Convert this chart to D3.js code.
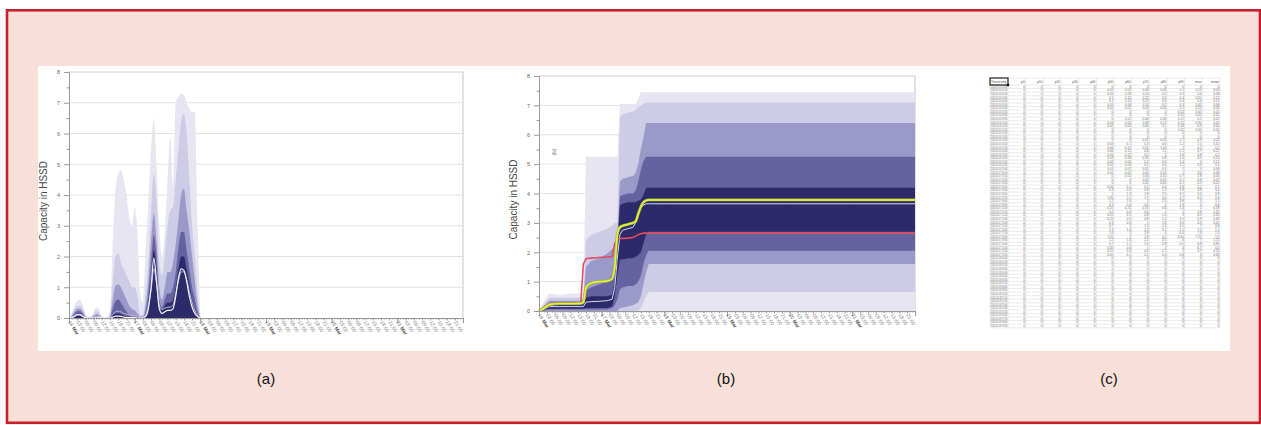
<!DOCTYPE html>
<html>
<head>
<meta charset="utf-8">
<script src="https://cdn.jsdelivr.net/npm/d3@7/dist/d3.min.js"></script>
<style>
  body { margin: 0; background: #fff; }
  svg { display: block; font-family: "Liberation Sans", Arial, sans-serif; }
</style>
</head>
<body>
<div id="figure"></div>
<script>
// ---- panel (a): hourly capacity fan, 16 Mar 00:00 .. 18 Mar 00:00
var aHours = [0,1,2,3,4,5,6,7,8,9,10,11,12,13,14,15,16,17,18,19,20,21,22,23,24,
              25,26,27,28,29,30,31,32,33,34,35,36,37,38,39,40,41,42,43,44,45,46,47,48];
var aBand1 = [0,0.15,0.4,0.55,0.6,0.45,0.15,0.05,0.05,0.2, 0.35,0.3,0.05,0,0,0.3,2.5,4.2,4.7,4.8,
              4.5,4.0,3.3,3.0,3.6,2.8,0.8,0.5,2.2,3.8, 5.5,6.5,5.0,3.0,2.0,2.8,4.5,5.9,4.3,7.0,
              7.2,7.3,7.25,7.0,6.8,6.7,6.7,3.0,0];
var aBand2 = [0,0.1,0.3,0.4,0.4,0.3,0.1,0.02,0.02,0.12, 0.22,0.18,0.02,0,0,0.1,1.2,2.0,2.1,1.8,
              1.6,1.4,1.2,1.0,1.0,0.7,0.1,0.1,0.8,1.8, 3.5,4.7,3.8,1.8,1.4,2.0,3.0,3.5,3.6,4.5,
              5.5,6.4,6.65,6.0,4.5,3.0,2.0,0.8,0];
var aBand3 = [0,0.06,0.2,0.3,0.3,0.2,0.05,0,0,0.06, 0.12,0.1,0,0,0,0.05,0.6,1.05,1.1,1.0,
              0.8,0.6,0.4,0.3,0.25,0.15,0.05,0.05,0.4,1.2, 2.5,3.4,2.5,1.0,0.6,1.0,1.5,1.5,1.8,2.4,
              3.2,4.0,4.2,3.5,2.8,2.0,1.2,0.4,0];
var aBand4 = [0,0.04,0.14,0.22,0.22,0.14,0.03,0,0,0.04, 0.08,0.06,0,0,0,0.02,0.3,0.55,0.6,0.5,
              0.35,0.2,0.1,0.05,0.05,0.03,0.02,0.02,0.2,0.8, 1.8,2.7,2.0,0.6,0.35,0.6,0.8,0.8,1.0,1.5,
              2.3,2.8,2.8,2.2,1.6,1.0,0.6,0.2,0];
var aBand5 = [0,0.02,0.08,0.15,0.15,0.08,0.02,0,0,0.02, 0.05,0.04,0,0,0,0,0.1,0.15,0.15,0.12,
              0.08,0.05,0.03,0.02,0.02,0.01,0,0,0.1,0.5, 1.3,2.2,1.6,0.4,0.25,0.4,0.5,0.5,0.6,1.0,
              1.6,2.0,2.0,1.6,1.1,0.6,0.3,0.1,0];
var aMedian = [0,0.01,0.05,0.1,0.1,0.05,0.01,0,0,0, 0.03,0.02,0,0,0,0,0.03,0.06,0.06,0.05,
               0.03,0.02,0.01,0.01,0.01,0,0,0,0.05,0.3, 1.0,1.95,1.2,0.3,0.15,0.2,0.25,0.25,0.3,0.7,
               1.3,1.6,1.55,1.2,0.7,0.35,0.15,0.05,0];
var aMean = [0,0.03,0.08,0.12,0.12,0.08,0.02,0.01,0.01,0.02, 0.05,0.04,0.01,0,0,0.02,0.12,0.2,0.22,0.2,
             0.15,0.12,0.1,0.08,0.08,0.05,0.02,0.02,0.1,0.4, 0.9,1.6,1.1,0.4,0.28,0.32,0.35,0.36,0.42,0.8,
             1.2,1.5,1.5,1.25,0.85,0.5,0.25,0.08,0];

// ---- panel (b): cumulative capacity fan, 16 Mar .. 22 Mar
var bHours = [0,2,4,8,12,16,17,18,20,23,26,28,29,30,31,32,34,36,37,38,39,40,41,42,43,48,72,96,120,144];
var bUp1 = [0,0.35,0.6,0.55,0.6,0.6,0.6,5.25,5.25,5.25,5.25,5.25,5.25,5.25,7.05,7.05,7.05,7.05,7.05,7.2,7.45,7.45,7.45,7.45,7.45,7.45,7.45,7.45,7.45,7.45];
var bUp2 = [0,0.25,0.45,0.45,0.45,0.45,0.45,2.4,2.6,2.7,2.8,2.9,3.0,3.0,6.6,6.7,6.75,6.8,6.85,6.95,7.0,7.05,7.1,7.1,7.1,7.1,7.1,7.1,7.1,7.1];
var bUp3 = [0,0.18,0.35,0.35,0.35,0.35,0.4,1.5,1.7,1.8,1.95,2.1,2.2,2.4,4.4,4.5,4.55,4.6,4.7,5.0,5.5,5.9,6.4,6.4,6.4,6.4,6.4,6.4,6.4,6.4];
var bUp4 = [0,0.14,0.28,0.28,0.28,0.28,0.3,0.7,0.8,0.9,1.0,1.2,1.4,2.2,3.9,3.95,4.0,4.0,4.1,4.4,4.8,5.1,5.25,5.25,5.25,5.25,5.25,5.25,5.25,5.25];
var bUp5 = [0,0.1,0.2,0.2,0.2,0.2,0.22,0.45,0.5,0.5,0.5,0.55,1.0,2.2,3.6,3.65,3.7,3.7,3.7,3.75,3.8,3.95,4.2,4.2,4.2,4.2,4.2,4.2,4.2,4.2];
var bLo1 = [0,0,0,0,0,0,0,0,0,0,0,0,0,0,0,0,0,0,0,0,0,0,0,0,0,0,0,0,0,0];
var bLo2 = [0,0,0,0,0,0,0,0,0,0,0,0,0,0,0,0,0,0,0,0,0.1,0.3,0.5,0.65,0.65,0.65,0.65,0.65,0.65,0.65];
var bLo3 = [0,0,0,0,0,0,0,0,0,0,0,0,0,0,0.1,0.12,0.15,0.2,0.25,0.3,0.5,0.9,1.3,1.6,1.6,1.6,1.6,1.6,1.6,1.6];
var bLo4 = [0,0.02,0.05,0.05,0.05,0.05,0.05,0.05,0.05,0.05,0.05,0.1,0.2,0.4,0.75,0.8,0.85,0.85,0.9,1.0,1.2,1.6,1.9,2.05,2.05,2.05,2.05,2.05,2.05,2.05];
var bLo5 = [0,0.05,0.08,0.08,0.08,0.08,0.08,0.1,0.1,0.1,0.1,0.15,0.5,1.2,1.75,1.75,1.8,1.8,1.85,1.9,2.0,2.3,2.6,2.7,2.7,2.7,2.7,2.7,2.7,2.7];
var bMedian = [0,0.08,0.15,0.15,0.15,0.15,0.15,0.3,0.32,0.33,0.35,0.4,0.8,1.8,2.6,2.75,2.8,2.85,3.0,3.3,3.5,3.6,3.65,3.65,3.65,3.65,3.65,3.65,3.65,3.65];
var bYellow = [0,0.1,0.22,0.25,0.25,0.26,0.3,0.8,0.95,1.0,1.02,1.1,1.5,2.6,2.85,2.9,2.95,3.0,3.05,3.3,3.55,3.7,3.76,3.78,3.78,3.78,3.78,3.78,3.78,3.78];
var bRed = [0,0.12,0.25,0.28,0.28,0.28,1.6,1.78,1.8,1.82,1.84,1.85,2.3,2.45,2.47,2.47,2.48,2.5,2.55,2.6,2.63,2.65,2.65,2.65,2.65,2.65,2.65,2.65,2.65,2.65];

// ---- shared
var yTicks = [0,1,2,3,4,5,6,7,8];
var yMinor = [0.5,1.5,2.5,3.5,4.5,5.5,6.5,7.5];
var bandColors = ["#e7e5f2", "#cdcbe5", "#9b98ca", "#66629f", "#2d2a6a"];
var startDay = new Date(2016, 2, 16), endDay = new Date(2016, 2, 22);

// ---- panel (c): spreadsheet of the panel (a) values
var tableHead = ["Timestamp","p0","p10","p20","p30","p40","p50","p60","p70","p80","p90","max","mean"];
var tableSeries = [null,null,null,null,null,aMedian,aBand5,aBand4,aBand3,aBand2,aBand1,aMean];
var tableRows = 68;

var W = 1261, H = 425;
var svg = d3.select("#figure").append("svg").attr("width", W).attr("height", H);

svg.append("rect").attr("x", 7).attr("y", 10.3).attr("width", 1253).attr("height", 412.5)
  .attr("fill", "#f8e0d8").attr("stroke", "#c61f2b").attr("stroke-width", 2.6);
svg.append("rect").attr("x", 38).attr("y", 66).attr("width", 1192).attr("height", 285).attr("fill", "#fff");

function hourDate(h) { return new Date(startDay.getTime() + h * 3600e3); }

function drawPanel(box, hours, bands, lines, curve, labelX, extra) {
  var x = d3.scaleTime().domain([startDay, endDay]).range([box.left, box.right]);
  var y = d3.scaleLinear().domain([0, 8]).range([box.bottom, box.top]);
  var g = svg.append("g");

  // gridlines + frame
  g.selectAll(".grid").data(yTicks.slice(1, 8)).enter().append("line")
    .attr("x1", box.left).attr("x2", box.right)
    .attr("y1", function(d) { return y(d); }).attr("y2", function(d) { return y(d); })
    .attr("stroke", "#e2e2e2").attr("stroke-width", 1);
  g.append("path")
    .attr("d", "M" + box.left + "," + y(8) + "H" + box.right + "V" + y(0))
    .attr("fill", "none").attr("stroke", "#cfcfcf").attr("stroke-width", 1.2);

  // fan bands
  bands.forEach(function(b, i) {
    var area = d3.area()
      .x(function(d, j) { return x(hourDate(hours[j])); })
      .y0(function(d, j) { return y(b.lo ? b.lo[j] : 0); })
      .y1(function(d) { return y(d); })
      .curve(curve);
    g.append("path").datum(b.hi).attr("d", area).attr("fill", bandColors[i]);
  });

  lines.forEach(function(l) {
    var line = d3.line()
      .x(function(d, j) { return x(hourDate(hours[j])); })
      .y(function(d) { return y(d); })
      .curve(l.curve || curve);
    g.append("path").datum(l.values).attr("d", line).attr("fill", "none")
      .attr("stroke", l.color).attr("stroke-width", l.width);
  });

  // y axis
  var yAxis = g.append("g").attr("transform", "translate(" + box.left + ",0)")
    .call(d3.axisLeft(y).tickValues(yTicks).tickSize(5).tickFormat(d3.format("d")));
  g.append("g").attr("transform", "translate(" + box.left + ",0)")
    .call(d3.axisLeft(y).tickValues(yMinor).tickSize(2.5).tickFormat(""))
    .select(".domain").remove();
  yAxis.selectAll("text").attr("font-size", 5.5).attr("fill", "#666").attr("dx", -1);

  // x axis
  g.append("g").attr("transform", "translate(0," + box.bottom + ")")
    .call(d3.axisBottom(x).ticks(d3.timeHour.every(1)).tickSize(1.5).tickFormat(""));
  g.append("g").attr("transform", "translate(0," + box.bottom + ")")
    .call(d3.axisBottom(x).ticks(d3.timeHour.every(3)).tickSize(2.5).tickFormat(""))
    .select(".domain").remove();
  g.append("g").attr("transform", "translate(0," + box.bottom + ")")
    .call(d3.axisBottom(x).ticks(d3.timeDay.every(1)).tickSize(5).tickFormat(""))
    .select(".domain").remove();
  g.selectAll(".domain, .tick line").attr("stroke", "#9a9a9a");

  var labTimes = x.ticks(d3.timeHour.every(3)).filter(function(t) { return t < endDay; });
  var lab = g.selectAll(".xl").data(labTimes).enter().append("text")
    .attr("transform", function(t) { return "translate(" + (x(t) - 1) + "," + (box.bottom + 4) + ") rotate(58)"; })
    .attr("font-size", 5).attr("fill", "#8a8a8a");
  lab.each(function(t) {
    var s = d3.select(this);
    if (t.getHours() === 0) {
      s.append("tspan").text(d3.timeFormat("%d")(t) + " ").attr("fill", "#666");
      s.append("tspan").text("Mar").attr("font-weight", "bold").attr("fill", "#555");
    } else {
      s.text(d3.timeFormat("%H:%M")(t));
    }
  });

  // y label
  g.append("text").attr("transform", "translate(" + labelX + "," + ((box.top + box.bottom) / 2 + 6) + ") rotate(-90)")
    .attr("text-anchor", "middle").attr("font-size", 10).attr("fill", "#4a4a4a")
    .text("Capacity in HSSD");
  if (extra) extra(g);
}

// (a)
drawPanel({ left: 69, right: 463, top: 72, bottom: 318 }, aHours,
  [{ hi: aBand1 }, { hi: aBand2 }, { hi: aBand3 }, { hi: aBand4 }, { hi: aBand5 }],
  [{ values: aMean, color: "#b9b6df", width: 1 },
   { values: aMedian, color: "#f3f2fb", width: 1.2 }],
  d3.curveMonotoneX, 47);

// (b)
drawPanel({ left: 539, right: 915, top: 76, bottom: 311 }, bHours,
  [{ lo: bLo1, hi: bUp1 }, { lo: bLo2, hi: bUp2 }, { lo: bLo3, hi: bUp3 }, { lo: bLo4, hi: bUp4 }, { lo: bLo5, hi: bUp5 }],
  [{ values: bMedian, color: "#d9d8ef", width: 1 },
   { values: bRed, color: "#e54d5f", width: 1.6 },
   { values: bYellow, color: "#9cc23e", width: 2.8, curve: d3.curveMonotoneX },
   { values: bYellow, color: "#f3ef3e", width: 1.4, curve: d3.curveMonotoneX }],
  d3.curveLinear, 517,
  function(g) {
    g.append("text").attr("transform", "translate(556,152) rotate(-90)")
      .attr("text-anchor", "middle").attr("font-size", 4.5).attr("fill", "#777").text("(hr)");
  });

// (c) spreadsheet
var tb = { left: 990, right: 1220, top: 78, head: 7, rowH: 3.57 };
var firstW = 18;
var colW = (tb.right - tb.left - firstW) / (tableHead.length - 1);
var colX = tableHead.map(function(d, i) { return i === 0 ? tb.left : tb.left + firstW + (i - 1) * colW; });
var tableBottom = tb.top + tb.head + tableRows * tb.rowH;
var tg = svg.append("g");
var rowIdx = d3.range(tableRows);
var fmtTime = d3.timeFormat("%Y-%m-%d %H:%M");
var fmtNum = d3.format(".3~f");

tg.selectAll(".hl").data(d3.range(tableRows + 2)).enter().append("line")
  .attr("x1", tb.left).attr("x2", tb.right)
  .attr("y1", function(i) { return i === 0 ? tb.top : tb.top + tb.head + (i - 1) * tb.rowH; })
  .attr("y2", function(i) { return i === 0 ? tb.top : tb.top + tb.head + (i - 1) * tb.rowH; })
  .attr("stroke", "#d4d4d4").attr("stroke-width", 0.5);
tg.selectAll(".vl").data(colX.concat([tb.right])).enter().append("line")
  .attr("x1", function(d) { return d; }).attr("x2", function(d) { return d; })
  .attr("y1", tb.top).attr("y2", tableBottom)
  .attr("stroke", "#d0d0d0").attr("stroke-width", 0.5);

tg.selectAll(".th").data(tableHead).enter().append("text")
  .attr("x", function(d, i) { return i === 0 ? colX[i] + 1 : colX[i] + colW - 1; })
  .attr("y", tb.top + tb.head - 2)
  .attr("text-anchor", function(d, i) { return i === 0 ? "start" : "end"; })
  .attr("font-size", 3.2).attr("fill", "#555").text(function(d) { return d; });

rowIdx.forEach(function(r) {
  var yy = tb.top + tb.head + (r + 1) * tb.rowH - 0.7;
  tg.append("text").attr("x", tb.left + 0.8).attr("y", yy)
    .attr("font-size", 3.1).attr("fill", "#666")
    .attr("textLength", firstW - 1.6).attr("lengthAdjust", "spacingAndGlyphs")
    .text(fmtTime(hourDate(aHours[0] + r)));
  tableSeries.forEach(function(s, c) {
    var v = s && r < s.length ? s[r] : 0;
    tg.append("text").attr("x", colX[c + 1] + colW - 0.8).attr("y", yy)
      .attr("text-anchor", "end").attr("font-size", 3.1).attr("fill", "#6e6e6e")
      .text(v === 0 ? "0" : fmtNum(v));
  });
});
// selected cell
tg.append("rect").attr("x", tb.left).attr("y", tb.top).attr("width", firstW).attr("height", tb.head)
  .attr("fill", "none").attr("stroke", "#111").attr("stroke-width", 1.1);
tg.append("rect").attr("x", tb.left + firstW - 1.2).attr("y", tb.top + tb.head - 1.2)
  .attr("width", 2.4).attr("height", 2.4).attr("fill", "#111");

// captions
svg.selectAll(".cap").data([["(a)", 266], ["(b)", 726], ["(c)", 1109]]).enter().append("text")
  .attr("x", function(d) { return d[1]; }).attr("y", 384)
  .attr("text-anchor", "middle").attr("font-size", 15).attr("fill", "#111")
  .text(function(d) { return d[0]; });
</script>
</body>
</html>
